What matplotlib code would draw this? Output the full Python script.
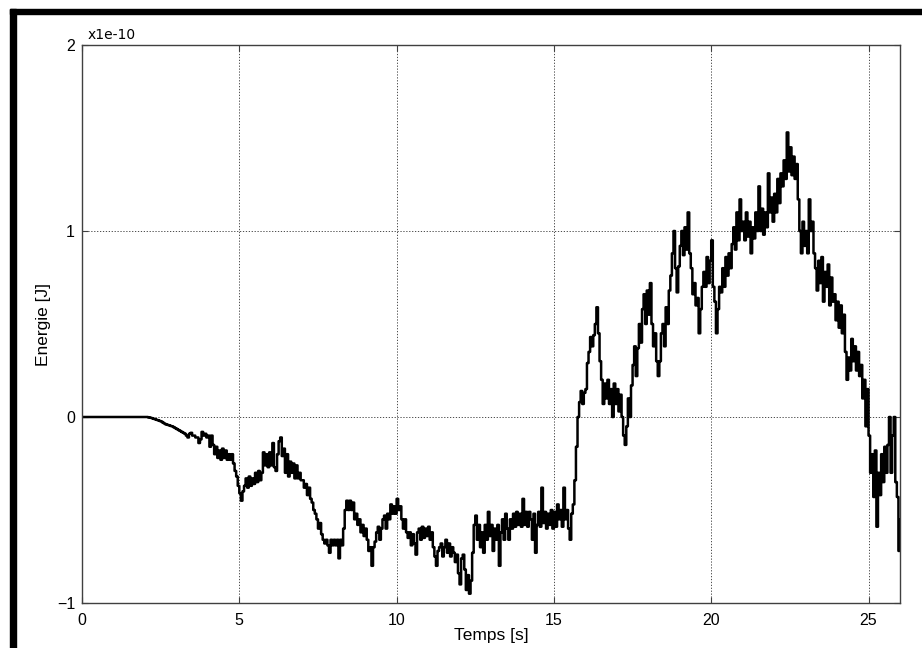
import numpy as np
import matplotlib.pyplot as plt
from matplotlib.patches import Rectangle

# Energie echantillonnee toutes les 0.05 s (unite 1e-10 J), une ligne par seconde
energie = [
    0, 0, 0, 0, 0, 0, 0, 0, 0, 0, 0, 0, 0, 0, 0, 0, 0, 0, 0, 0,
    0, 0, 0, 0, 0, 0, 0, 0, 0, 0, 0, 0, 0, 0, 0, 0, 0, 0, 0, 0,
    0, 0, -0.002, -0.004, -0.006, -0.009, -0.012, -0.015, -0.018, -0.021,
    -0.024, -0.03, -0.035, -0.04, -0.042, -0.045, -0.048, -0.05, -0.055, -0.06,
    -0.065, -0.07, -0.075, -0.08, -0.085, -0.09, -0.1, -0.11, -0.09, -0.085,
    -0.1, -0.1, -0.11, -0.11, -0.14, -0.12, -0.08, -0.1, -0.09, -0.11,
    -0.1, -0.16, -0.1, -0.15, -0.2, -0.16, -0.22, -0.18, -0.23, -0.17,
    -0.22, -0.18, -0.23, -0.2, -0.23, -0.2, -0.25, -0.29, -0.32, -0.37,
    -0.41, -0.45, -0.4, -0.37, -0.33, -0.38, -0.32, -0.37, -0.33, -0.36,
    -0.3, -0.35, -0.29, -0.34, -0.3, -0.19, -0.26, -0.2, -0.27, -0.19,
    -0.26, -0.14, -0.27, -0.29, -0.2, -0.13, -0.11, -0.21, -0.17, -0.3,
    -0.2, -0.32, -0.24, -0.3, -0.25, -0.33, -0.26, -0.33, -0.3, -0.34,
    -0.34, -0.38, -0.36, -0.42, -0.38, -0.44, -0.46, -0.5, -0.52, -0.55,
    -0.6, -0.57, -0.63, -0.66, -0.68, -0.66, -0.69, -0.73, -0.66, -0.69,
    -0.66, -0.69, -0.66, -0.76, -0.66, -0.69, -0.6, -0.5, -0.45, -0.5,
    -0.45, -0.5, -0.46, -0.55, -0.52, -0.58, -0.55, -0.62, -0.58, -0.64,
    -0.6, -0.66, -0.72, -0.7, -0.8, -0.7, -0.67, -0.62, -0.59, -0.66,
    -0.6, -0.55, -0.53, -0.6, -0.52, -0.55, -0.47, -0.52, -0.48, -0.52,
    -0.44, -0.5, -0.48, -0.55, -0.6, -0.55, -0.62, -0.65, -0.62, -0.69,
    -0.63, -0.68, -0.74, -0.62, -0.6, -0.66, -0.59, -0.65, -0.6, -0.64,
    -0.59, -0.66, -0.62, -0.7, -0.75, -0.8, -0.72, -0.7, -0.68, -0.75,
    -0.7, -0.66, -0.73, -0.68, -0.75, -0.7, -0.73, -0.78, -0.74, -0.84,
    -0.9, -0.76, -0.74, -0.82, -0.93, -0.85, -0.95, -0.88, -0.73, -0.58,
    -0.53, -0.66, -0.58, -0.7, -0.62, -0.73, -0.58, -0.66, -0.51, -0.64,
    -0.58, -0.72, -0.6, -0.66, -0.58, -0.8, -0.62, -0.55, -0.66, -0.52,
    -0.6, -0.66, -0.55, -0.6, -0.52, -0.59, -0.51, -0.58, -0.52, -0.59,
    -0.44, -0.58, -0.51, -0.59, -0.51, -0.55, -0.66, -0.52, -0.73, -0.58,
    -0.51, -0.59, -0.38, -0.57, -0.51, -0.6, -0.52, -0.58, -0.5, -0.6,
    -0.51, -0.59, -0.47, -0.55, -0.5, -0.59, -0.38, -0.55, -0.5, -0.6,
    -0.66, -0.52, -0.47, -0.34, -0.16, 0.0, 0.08, 0.14, 0.07, 0.13,
    0.15, 0.29, 0.35, 0.43, 0.38, 0.44, 0.5, 0.59, 0.45, 0.3,
    0.2, 0.07, 0.18, 0.1, 0.2, 0.07, 0.15, 0.0, 0.18, 0.07,
    0.15, 0.03, 0.12, 0.0, -0.1, -0.15, -0.05, 0.1, 0.0, 0.17,
    0.28, 0.38, 0.22, 0.37, 0.5, 0.4, 0.58, 0.66, 0.5, 0.68,
    0.55, 0.72, 0.5, 0.38, 0.45, 0.3, 0.22, 0.3, 0.45, 0.5,
    0.38, 0.59, 0.5, 0.68, 0.76, 0.88, 1.0, 0.8, 0.67, 0.81,
    0.92, 1.0, 0.87, 1.02, 0.9, 1.1, 0.88, 0.8, 0.66, 0.72,
    0.6, 0.64, 0.45, 0.58, 0.7, 0.78, 0.7, 0.86, 0.72, 0.84,
    0.95, 0.7, 0.62, 0.45, 0.58, 0.7, 0.67, 0.8, 0.7, 0.86,
    0.76, 0.88, 0.8, 0.93, 1.02, 0.9, 1.1, 0.95, 1.17, 1.0,
    1.05, 0.95, 1.1, 0.97, 1.05, 0.88, 1.02, 0.96, 1.1, 1.0,
    1.24, 1.0, 1.12, 0.98, 1.1, 1.02, 1.31, 1.1, 1.18, 1.05,
    1.2, 1.1, 1.28, 1.15, 1.31, 1.24, 1.38, 1.28, 1.53, 1.32,
    1.45, 1.3, 1.4, 1.28, 1.36, 1.17, 1.0, 0.88, 1.05, 0.92,
    1.0, 0.88, 1.17, 1.0, 1.05, 0.88, 0.8, 0.68, 0.84, 0.72,
    0.86, 0.62, 0.78, 0.7, 0.82, 0.6, 0.75, 0.62, 0.66, 0.52,
    0.62, 0.48, 0.6, 0.45, 0.55, 0.35, 0.2, 0.32, 0.25, 0.42,
    0.3, 0.38, 0.25, 0.35, 0.22, 0.28, 0.1, 0.2, -0.05, 0.15,
    -0.1, -0.3, -0.2, -0.43, -0.18, -0.59, -0.3, -0.42, -0.2, -0.35,
    -0.16, -0.3, -0.15, 0.0, -0.3, -0.1, 0.0, -0.35, -0.43, -0.72,
    -0.55,
]
pas = 0.05
temps = np.arange(len(energie)) * pas

xticks = [0, 5, 10, 15, 20, 25]
yticks = [-1, 0, 1, 2]

plt.rcParams['font.family'] = ['Liberation Sans', 'DejaVu Sans']

fig = plt.figure(figsize=(9.22, 6.48), dpi=100)
ax = fig.add_axes([82/922, 45/648, 818/922, 558/648])

ax.plot(temps, energie, color='black', linewidth=1.8, drawstyle='steps-post')

ax.set_xlim(0, 26)
ax.set_ylim(-1, 2)
ax.set_xticks(xticks)
ax.set_yticks(yticks)
ax.tick_params(direction='in', length=4, width=0.8, color='#404040',
               labelsize=11.5, top=True, right=True)
ax.tick_params(axis='x', pad=7)
ax.tick_params(axis='y', pad=5)
for s in ax.spines.values():
    s.set_color('#404040')
    s.set_linewidth(1.0)

ax.grid(True, color='#303030', linestyle=(0, (1.5, 2)), linewidth=0.6)

ax.set_xlabel('Temps [s]', fontsize=12.5, labelpad=0)
ax.set_ylabel('Energie [J]', fontsize=12.5, labelpad=4)
ax.text(0.007, 1.005, 'x1e-10', transform=ax.transAxes, fontsize=10,
        family='DejaVu Sans', ha='left', va='bottom')

# cadre noir de la fenetre
fig.patches.append(Rectangle((10/922, 0), 6/922, 639/648, transform=fig.transFigure,
                             color='black', zorder=10))
fig.patches.append(Rectangle((10/922, 634/648), 912/922, 5/648, transform=fig.transFigure,
                             color='black', zorder=10))

fig.savefig('out.png', dpi=100)
